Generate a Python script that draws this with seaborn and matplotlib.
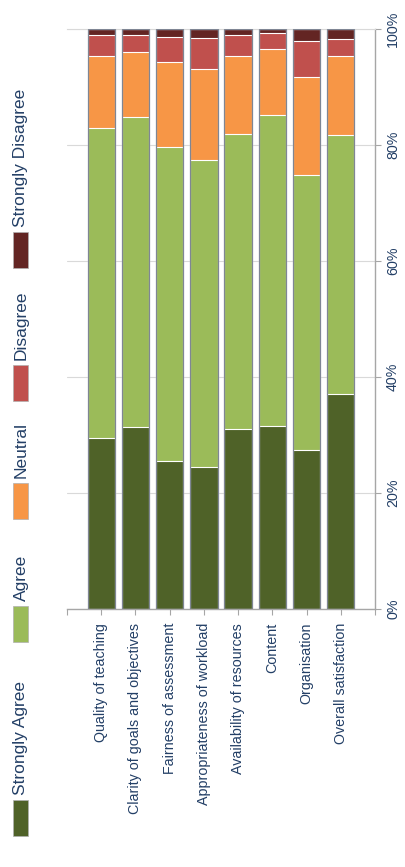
import matplotlib
matplotlib.use("Agg")
import matplotlib.pyplot as plt
from matplotlib.patches import Rectangle
import pandas as pd
import seaborn as sns

# survey items (bars) and response levels (stack order, bottom -> top)
categories = [
    "Quality of teaching",
    "Clarity of goals and objectives",
    "Fairness of assessment",
    "Appropriateness of workload",
    "Availability of resources",
    "Content",
    "Organisation",
    "Overall satisfaction",
]
levels = ["Strongly Agree", "Agree", "Neutral", "Disagree", "Strongly Disagree"]

# percent of responses per item
strongly_agree = [29.4, 31.3, 25.6, 24.4, 31.1, 31.6, 27.4, 37.1]
agree = [53.6, 53.6, 54.1, 53.0, 50.8, 53.5, 47.4, 44.6]
neutral = [12.3, 11.1, 14.6, 15.7, 13.4, 11.4, 16.9, 13.6]
disagree = [3.7, 3.0, 4.4, 5.4, 3.7, 2.8, 6.3, 2.9]
strongly_disagree = [1.0, 1.0, 1.3, 1.5, 1.0, 0.7, 2.0, 1.8]

pct_ticks = [0, 20, 40, 60, 80, 100]
colors = ["#4f6228", "#9bbb59", "#f79646", "#c0504d", "#632523"]

TEXT = "#233f66"
FS = 10.3
LEGEND_FS = 12.5
W, H = 405, 867


def main() -> None:
    sns.set_style("white")
    plt.rcParams["font.family"] = ["Liberation Sans", "DejaVu Sans"]

    df = pd.DataFrame({
        "category": categories,
        "Strongly Agree": strongly_agree,
        "Agree": agree,
        "Neutral": neutral,
        "Disagree": disagree,
        "Strongly Disagree": strongly_disagree,
    })
    cum = df[levels].cumsum(axis=1)
    cum["category"] = df["category"]

    fig = plt.figure(figsize=(W / 100, H / 100), dpi=100)
    ax = fig.add_axes([67 / W, 258 / H, 308 / W, 580 / H])

    # stacked bars: draw tallest cumulative first so lower segments sit on top
    for level, color in reversed(list(zip(levels, colors))):
        sns.barplot(data=cum, x="category", y=level, order=categories, color=color,
                    saturation=1, width=0.8, edgecolor="white", linewidth=0.8,
                    errorbar=None, ax=ax, zorder=2)
    ax.bar(range(len(categories)), cum["Strongly Disagree"], width=0.8, fill=False,
           edgecolor="#7f8694", linewidth=0.9, zorder=3)

    ax.set_xlim(-1, len(categories))
    ax.set_ylim(0, 100)
    ax.set_xlabel("")
    ax.set_ylabel("")
    ax.grid(axis="y", color="#d9d9d9", linewidth=0.8)
    ax.set_axisbelow(True)

    ax.spines["left"].set_visible(False)
    ax.spines["top"].set_color("#d9d9d9")
    for side in ["right", "bottom"]:
        ax.spines[side].set_color("#a6a6a6")
        ax.spines[side].set_linewidth(1.0)

    ax.yaxis.tick_right()
    ax.set_yticks(pct_ticks)
    ax.set_yticklabels([f"{v}%" for v in pct_ticks], rotation=90, va="center")
    ax.tick_params(axis="y", right=True, left=False, length=4, color="#a6a6a6",
                   pad=4, labelsize=FS, labelcolor=TEXT)

    ax.set_xticks(range(-1, len(categories) + 1))
    ax.set_xticklabels([""] + categories + [""], rotation=90)
    ax.tick_params(axis="x", bottom=True, length=4, color="#a6a6a6", pad=6,
                   labelsize=FS, labelcolor=TEXT)

    # legend, rotated like the rest of the chart
    patch_tops = [800, 606, 483, 365, 232]
    for level, color, top in zip(levels, colors, patch_tops):
        fig.add_artist(Rectangle((13 / W, 1 - (top + 36) / H), 15 / W, 36 / H,
                                 transform=fig.transFigure, facecolor=color,
                                 edgecolor="#b0b0b0", linewidth=0.5))
        fig.text(21 / W, 1 - (top - 5) / H, level, rotation=90, ha="center",
                 va="bottom", fontsize=LEGEND_FS, color=TEXT)

    fig.savefig("out.png", dpi=100)
    plt.close(fig)


if __name__ == "__main__":
    main()
